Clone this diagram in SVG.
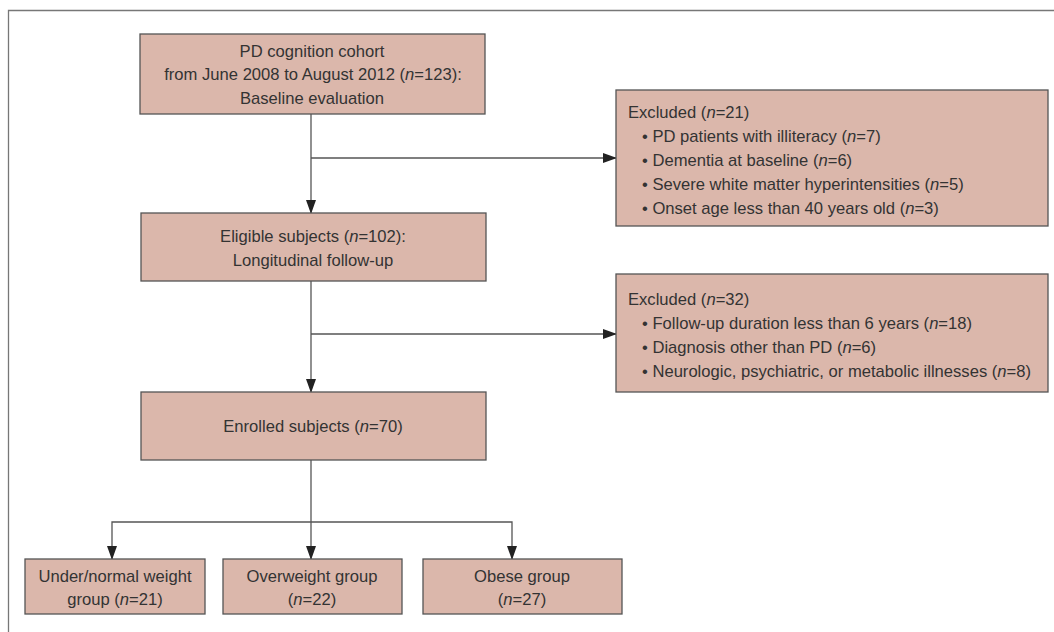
<svg xmlns="http://www.w3.org/2000/svg" width="1054" height="632" viewBox="0 0 1054 632">
<defs>
<marker id="arr" markerWidth="14" markerHeight="10" refX="13" refY="5" orient="auto" markerUnits="userSpaceOnUse">
<path d="M0,0 L14,5 L0,10 Z" fill="#222"/>
</marker>
<style>
.box{fill:#dbb7ab;stroke:#555;stroke-width:1.3}
.t{font-family:"Liberation Sans",Arial,sans-serif;font-size:16.6px;fill:#333}
.c{text-anchor:middle}
.ln{fill:none;stroke:#555;stroke-width:1.3}
.fr{fill:none;stroke:#777;stroke-width:1.3}
</style>
</defs>
<rect width="1054" height="632" fill="#fff"/>
<path class="fr" d="M1054,10.5 H8.5 V632"/>
<g id="connectors">
<path class="ln" d="M311,114 V213" marker-end="url(#arr)"/>
<path class="ln" d="M311,158 H616" marker-end="url(#arr)"/>
<path class="ln" d="M311,281 V392" marker-end="url(#arr)"/>
<path class="ln" d="M311,334 H616" marker-end="url(#arr)"/>
<path class="ln" d="M311,460 V559" marker-end="url(#arr)"/>
<path class="ln" d="M311,522 H112 V559" marker-end="url(#arr)"/>
<path class="ln" d="M311,522 H512 V559" marker-end="url(#arr)"/>
</g>
<g id="cohort">
<rect class="box" x="140" y="34" width="345" height="80"/>
<text class="t c" x="312" y="57">PD cognition cohort</text>
<text class="t c" x="313" y="80">from June 2008 to August 2012 (<tspan font-style="italic">n</tspan>=123):</text>
<text class="t c" x="312" y="104">Baseline evaluation</text>
</g>
<g id="excluded1">
<rect class="box" x="616" y="90" width="432" height="136"/>
<text class="t" x="628" y="118">Excluded (<tspan font-style="italic">n</tspan>=21)</text>
<text class="t" x="642" y="142">• PD patients with illiteracy (<tspan font-style="italic">n</tspan>=7)</text>
<text class="t" x="642" y="166">• Dementia at baseline (<tspan font-style="italic">n</tspan>=6)</text>
<text class="t" x="642" y="190">• Severe white matter hyperintensities (<tspan font-style="italic">n</tspan>=5)</text>
<text class="t" x="642" y="214">• Onset age less than 40 years old (<tspan font-style="italic">n</tspan>=3)</text>
</g>
<g id="eligible">
<rect class="box" x="141" y="213" width="345" height="68"/>
<text class="t c" x="313" y="242">Eligible subjects (<tspan font-style="italic">n</tspan>=102):</text>
<text class="t c" x="313" y="266">Longitudinal follow-up</text>
</g>
<g id="excluded2">
<rect class="box" x="616" y="274" width="432" height="118"/>
<text class="t" x="628" y="305">Excluded (<tspan font-style="italic">n</tspan>=32)</text>
<text class="t" x="642" y="329">• Follow-up duration less than 6 years (<tspan font-style="italic">n</tspan>=18)</text>
<text class="t" x="642" y="353">• Diagnosis other than PD (<tspan font-style="italic">n</tspan>=6)</text>
<text class="t" x="642" y="377">• Neurologic, psychiatric, or metabolic illnesses (<tspan font-style="italic">n</tspan>=8)</text>
</g>
<g id="enrolled">
<rect class="box" x="141" y="392" width="345" height="68"/>
<text class="t c" x="313" y="432">Enrolled subjects (<tspan font-style="italic">n</tspan>=70)</text>
</g>
<g id="under">
<rect class="box" x="25" y="559" width="180" height="55"/>
<text class="t c" x="115" y="582">Under/normal weight</text>
<text class="t c" x="115" y="605">group (<tspan font-style="italic">n</tspan>=21)</text>
</g>
<g id="over">
<rect class="box" x="223" y="559" width="179" height="55"/>
<text class="t c" x="312" y="582">Overweight group</text>
<text class="t c" x="312" y="605">(<tspan font-style="italic">n</tspan>=22)</text>
</g>
<g id="obese">
<rect class="box" x="423" y="559" width="199" height="55"/>
<text class="t c" x="522" y="582">Obese group</text>
<text class="t c" x="522" y="605">(<tspan font-style="italic">n</tspan>=27)</text>
</g>
</svg>
